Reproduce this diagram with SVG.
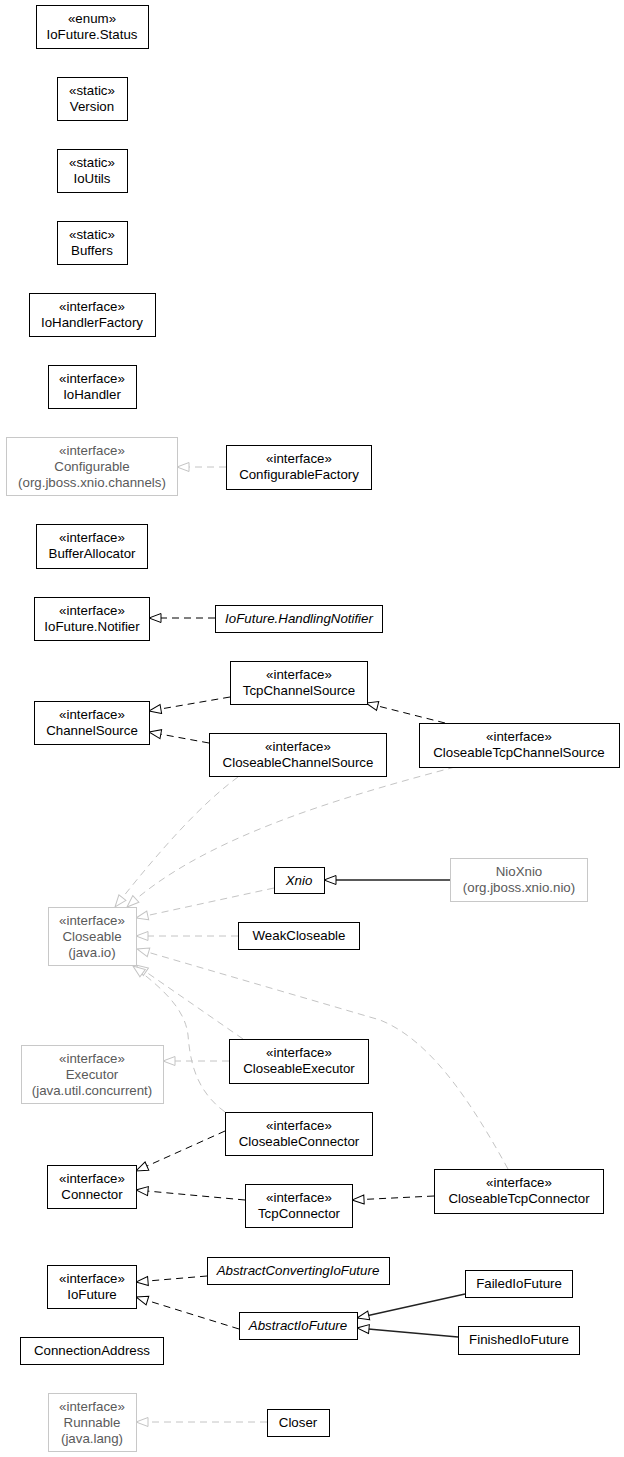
<svg xmlns="http://www.w3.org/2000/svg" width="624" height="1457" viewBox="0 0 624 1457">
<style>
.n rect{fill:#fff;stroke:#000;stroke-width:1}
.g rect{fill:#fff;stroke:#c8c8c8;stroke-width:1}
text{font-family:"Liberation Sans",Arial,sans-serif;font-size:13.3px;text-anchor:middle;fill:#000}
.g text{fill:#5a5a5a}
.i text{font-style:italic}
.e path{fill:none}
.d{stroke:#000;stroke-dasharray:7,5}
.dg{stroke:#c4c4c4;stroke-dasharray:7,5}
.s{stroke:#222;stroke-width:1.3}
</style>
<defs>
<marker id="tb" markerUnits="userSpaceOnUse" markerWidth="14" markerHeight="12" viewBox="0 0 14 12" refX="13" refY="6" orient="auto">
<path d="M1,1.5 L13,6 L1,10.5 Z" fill="#fff" stroke="#000" stroke-width="1" stroke-dasharray="none"/>
</marker>
<marker id="tg" markerUnits="userSpaceOnUse" markerWidth="14" markerHeight="12" viewBox="0 0 14 12" refX="13" refY="6" orient="auto">
<path d="M1,1.5 L13,6 L1,10.5 Z" fill="#fff" stroke="#c4c4c4" stroke-width="1" stroke-dasharray="none"/>
</marker>
</defs>
<rect width="624" height="1457" fill="#fff"/>
<g id="edges" class="e">
<path class="dg" d="M226,467 L177,467" marker-end="url(#tg)"/>
<path class="d" d="M215,618 L149,618" marker-end="url(#tb)"/>
<path class="d" d="M230,697 L149,711" marker-end="url(#tb)"/>
<path class="d" d="M209,743 L149,732" marker-end="url(#tb)"/>
<path class="d" d="M445,723 L366,703" marker-end="url(#tb)"/>
<path class="dg" d="M238,777 C200,805 160,850 115,907" marker-end="url(#tg)"/>
<path class="dg" d="M455,767 C330,800 200,840 127,907" marker-end="url(#tg)"/>
<path class="dg" d="M274,888 L136,918" marker-end="url(#tg)"/>
<path class="s" d="M450,880 L324,880" marker-end="url(#tb)"/>
<path class="dg" d="M238,936 L136,936" marker-end="url(#tg)"/>
<path class="dg" d="M243,1039 L136,965" marker-end="url(#tg)"/>
<path class="dg" d="M225,1112 C195,1090 190,1060 188,1035 C185,1010 165,990 133,966" marker-end="url(#tg)"/>
<path class="dg" d="M508,1169 C470,1100 430,1040 380,1020 L137,949" marker-end="url(#tg)"/>
<path class="dg" d="M229,1061 L163,1061" marker-end="url(#tg)"/>
<path class="d" d="M225,1131 L136,1171" marker-end="url(#tb)"/>
<path class="d" d="M245,1200 L136,1190" marker-end="url(#tb)"/>
<path class="d" d="M434,1196 L352,1200" marker-end="url(#tb)"/>
<path class="d" d="M207,1276 L136,1282" marker-end="url(#tb)"/>
<path class="d" d="M239,1329 L136,1297" marker-end="url(#tb)"/>
<path class="s" d="M465,1294 L357,1318" marker-end="url(#tb)"/>
<path class="s" d="M458,1337 L357,1328" marker-end="url(#tb)"/>
<path class="dg" d="M267,1422 L136,1422" marker-end="url(#tg)"/>
</g>
<g id="IoFutureStatus" class="n"><rect x="36.5" y="5.5" width="112" height="43"/><text x="92" y="23">«enum»</text><text x="92" y="39">IoFuture.Status</text></g>
<g id="Version" class="n"><rect x="57.5" y="77.5" width="70" height="43"/><text x="92" y="95">«static»</text><text x="92" y="111">Version</text></g>
<g id="IoUtils" class="n"><rect x="57.5" y="149.5" width="70" height="43"/><text x="92" y="167">«static»</text><text x="92" y="183">IoUtils</text></g>
<g id="Buffers" class="n"><rect x="57.5" y="221.5" width="70" height="43"/><text x="92" y="239">«static»</text><text x="92" y="255">Buffers</text></g>
<g id="IoHandlerFactory" class="n"><rect x="29.5" y="293.5" width="126" height="43"/><text x="92" y="311">«interface»</text><text x="92" y="327">IoHandlerFactory</text></g>
<g id="IoHandler" class="n"><rect x="48.5" y="365.5" width="88" height="43"/><text x="92" y="383">«interface»</text><text x="92" y="399">IoHandler</text></g>
<g id="Configurable" class="g"><rect x="6.5" y="437.5" width="171" height="58"/><text x="92" y="455">«interface»</text><text x="92" y="471">Configurable</text><text x="92" y="487">(org.jboss.xnio.channels)</text></g>
<g id="ConfigurableFactory" class="n"><rect x="226.5" y="445.5" width="145" height="44"/><text x="299" y="463">«interface»</text><text x="299" y="479">ConfigurableFactory</text></g>
<g id="BufferAllocator" class="n"><rect x="36.5" y="524.5" width="111" height="44"/><text x="92" y="542">«interface»</text><text x="92" y="558">BufferAllocator</text></g>
<g id="IoFutureNotifier" class="n"><rect x="34.5" y="597.5" width="115" height="43"/><text x="92" y="615">«interface»</text><text x="92" y="631">IoFuture.Notifier</text></g>
<g id="HandlingNotifier" class="n i"><rect x="215.5" y="605.5" width="167" height="27"/><text x="299" y="623">IoFuture.HandlingNotifier</text></g>
<g id="TcpChannelSource" class="n"><rect x="230.5" y="661.5" width="137" height="43"/><text x="299" y="679">«interface»</text><text x="299" y="695">TcpChannelSource</text></g>
<g id="ChannelSource" class="n"><rect x="34.5" y="701.5" width="115" height="43"/><text x="92" y="719">«interface»</text><text x="92" y="735">ChannelSource</text></g>
<g id="CloseableChannelSource" class="n"><rect x="209.5" y="733.5" width="177" height="43"/><text x="298" y="751">«interface»</text><text x="298" y="767">CloseableChannelSource</text></g>
<g id="CloseableTcpChannelSource" class="n"><rect x="419.5" y="723.5" width="200" height="44"/><text x="519" y="741">«interface»</text><text x="519" y="757">CloseableTcpChannelSource</text></g>
<g id="Xnio" class="n i"><rect x="274.5" y="867.5" width="50" height="26"/><text x="299" y="885">Xnio</text></g>
<g id="NioXnio" class="g"><rect x="450.5" y="858.5" width="137" height="43"/><text x="519" y="876">NioXnio</text><text x="519" y="892">(org.jboss.xnio.nio)</text></g>
<g id="Closeable" class="g"><rect x="48.5" y="907.5" width="88" height="58"/><text x="92" y="925">«interface»</text><text x="92" y="941">Closeable</text><text x="92" y="957">(java.io)</text></g>
<g id="WeakCloseable" class="n"><rect x="238.5" y="922.5" width="121" height="27"/><text x="299" y="940">WeakCloseable</text></g>
<g id="Executor" class="g"><rect x="21.5" y="1045.5" width="142" height="58"/><text x="92" y="1063">«interface»</text><text x="92" y="1079">Executor</text><text x="92" y="1095">(java.util.concurrent)</text></g>
<g id="CloseableExecutor" class="n"><rect x="229.5" y="1039.5" width="139" height="44"/><text x="299" y="1057">«interface»</text><text x="299" y="1073">CloseableExecutor</text></g>
<g id="CloseableConnector" class="n"><rect x="225.5" y="1112.5" width="147" height="43"/><text x="299" y="1130">«interface»</text><text x="299" y="1146">CloseableConnector</text></g>
<g id="Connector" class="n"><rect x="47.5" y="1165.5" width="89" height="43"/><text x="92" y="1183">«interface»</text><text x="92" y="1199">Connector</text></g>
<g id="TcpConnector" class="n"><rect x="245.5" y="1184.5" width="107" height="43"/><text x="299" y="1202">«interface»</text><text x="299" y="1218">TcpConnector</text></g>
<g id="CloseableTcpConnector" class="n"><rect x="434.5" y="1169.5" width="169" height="44"/><text x="519" y="1187">«interface»</text><text x="519" y="1203">CloseableTcpConnector</text></g>
<g id="AbstractConvertingIoFuture" class="n i"><rect x="207.5" y="1257.5" width="182" height="27"/><text x="298" y="1275">AbstractConvertingIoFuture</text></g>
<g id="IoFuture" class="n"><rect x="47.5" y="1265.5" width="89" height="43"/><text x="92" y="1283">«interface»</text><text x="92" y="1299">IoFuture</text></g>
<g id="FailedIoFuture" class="n"><rect x="465.5" y="1270.5" width="107" height="27"/><text x="519" y="1288">FailedIoFuture</text></g>
<g id="AbstractIoFuture" class="n i"><rect x="239.5" y="1312.5" width="118" height="27"/><text x="298" y="1330">AbstractIoFuture</text></g>
<g id="FinishedIoFuture" class="n"><rect x="458.5" y="1326.5" width="121" height="28"/><text x="519" y="1344">FinishedIoFuture</text></g>
<g id="ConnectionAddress" class="n"><rect x="20.5" y="1337.5" width="143" height="27"/><text x="92" y="1355">ConnectionAddress</text></g>
<g id="Runnable" class="g"><rect x="48.5" y="1393.5" width="88" height="58"/><text x="92" y="1411">«interface»</text><text x="92" y="1427">Runnable</text><text x="92" y="1443">(java.lang)</text></g>
<g id="Closer" class="n"><rect x="267.5" y="1409.5" width="62" height="27"/><text x="298" y="1427">Closer</text></g>
</svg>
